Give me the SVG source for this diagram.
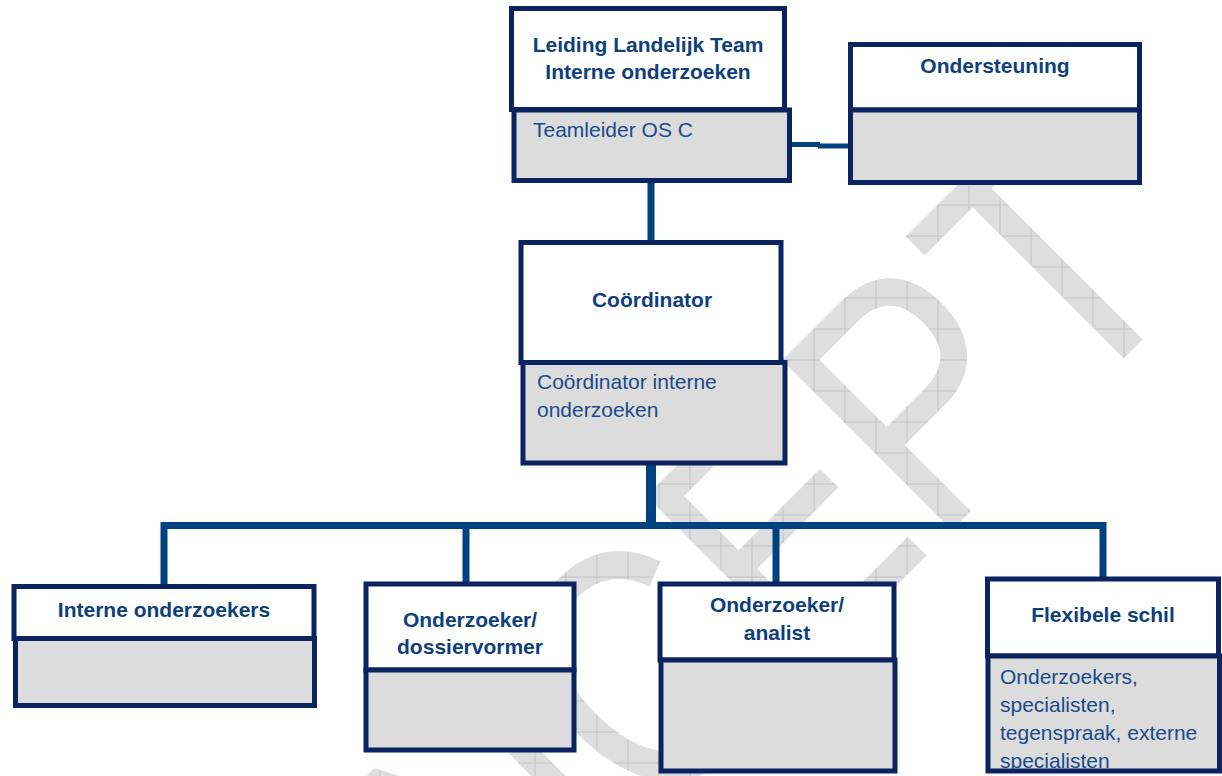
<svg xmlns="http://www.w3.org/2000/svg" width="1222" height="776" viewBox="0 0 1222 776">
  <defs>
    <!-- light grey grid fill for the watermark, kept axis-aligned on the page -->
    <pattern id="grid" width="31" height="31" patternUnits="userSpaceOnUse"
             patternTransform="scale(1.2121,1) rotate(45) translate(-200,-1282)">
      <rect width="31" height="31" fill="#dedede"/>
      <path d="M8 0V31M0 19H31" stroke="#c3c3c3" stroke-width="1"/>
    </pattern>
    <clipPath id="flexClip">
      <rect x="990" y="658" width="228" height="110.5"/>
    </clipPath>
    <style>
      .hdr { fill: #ffffff; stroke: #0b2360; stroke-width: 5; }
      .sub { fill: #dcdcdc; stroke: #0b2360; stroke-width: 5; }
      .title { font-family: "Liberation Sans", Arial, sans-serif; font-weight: bold; font-size: 21px; fill: #0f3f7b; text-anchor: middle; }
      .body { font-family: "Liberation Sans", Arial, sans-serif; font-size: 21px; fill: #1a4b8a; }
      .wire { fill: none; stroke: #00427f; stroke-linecap: butt; stroke-linejoin: miter; }
      .wm { font-family: "Liberation Sans", Arial, sans-serif; font-size: 349px; fill: url(#grid); }
    </style>
  </defs>

  <rect width="1222" height="776" fill="#ffffff"/>

  <!-- draft watermark -->
  <text class="wm" transform="translate(200,1282) rotate(-45) scale(0.825,1)">CONCEPT</text>

  <!-- connectors -->
  <g id="connectors">
    <path class="wire" stroke-width="7" d="M651 181V243"/>
    <path class="wire" stroke-width="5" d="M790 144.5H820M818 146H850"/>
    <path class="wire" stroke-width="10" d="M651 463V527"/>
    <path class="wire" stroke-width="7" d="M164 588V525.5H1103V580"/>
    <path class="wire" stroke-width="7" d="M466 525V585"/>
    <path class="wire" stroke-width="7" d="M776 525V585"/>
  </g>

  <g id="leiding">
    <rect class="hdr" x="511.5" y="8.5" width="273" height="101"/>
    <rect class="sub" x="514" y="110" width="275.5" height="70.5"/>
    <text class="title" x="648" y="51.5">Leiding Landelijk Team</text>
    <text class="title" x="648" y="79">Interne onderzoeken</text>
    <text class="body" x="533" y="137">Teamleider OS C</text>
  </g>

  <g id="ondersteuning">
    <rect class="hdr" x="850.5" y="44.5" width="289" height="65.5"/>
    <rect class="sub" x="850.5" y="110" width="289" height="72.5"/>
    <text class="title" x="995" y="73">Ondersteuning</text>
  </g>

  <g id="coordinator">
    <rect class="hdr" x="521" y="242.5" width="260" height="120"/>
    <rect class="sub" x="523" y="362.5" width="262" height="100.5"/>
    <text class="title" x="652" y="307">Coördinator</text>
    <text class="body" x="537" y="389">Coördinator interne</text>
    <text class="body" x="537" y="417">onderzoeken</text>
  </g>

  <g id="interne-onderzoekers">
    <rect class="hdr" x="14" y="586.5" width="300" height="52"/>
    <rect class="sub" x="15.5" y="638.5" width="299" height="67"/>
    <text class="title" x="164" y="617">Interne onderzoekers</text>
  </g>

  <g id="dossiervormer">
    <rect class="hdr" x="366" y="584" width="208" height="86"/>
    <rect class="sub" x="366" y="670" width="208" height="80"/>
    <text class="title" x="470" y="627">Onderzoeker/</text>
    <text class="title" x="470" y="654">dossiervormer</text>
  </g>

  <g id="analist">
    <rect class="hdr" x="660" y="584" width="234" height="76"/>
    <rect class="sub" x="661" y="660" width="234" height="111"/>
    <text class="title" x="777" y="612">Onderzoeker/</text>
    <text class="title" x="777" y="640">analist</text>
  </g>

  <g id="flexibele-schil">
    <rect class="hdr" x="987.5" y="579" width="231" height="77"/>
    <rect class="sub" x="988" y="656" width="231.5" height="115"/>
    <text class="title" x="1103" y="622">Flexibele schil</text>
    <g clip-path="url(#flexClip)">
      <text class="body" x="1000" y="684">Onderzoekers,</text>
      <text class="body" x="1000" y="712">specialisten,</text>
      <text class="body" x="1000" y="740">tegenspraak, externe</text>
      <text class="body" x="1000" y="768">specialisten</text>
    </g>
  </g>
</svg>
